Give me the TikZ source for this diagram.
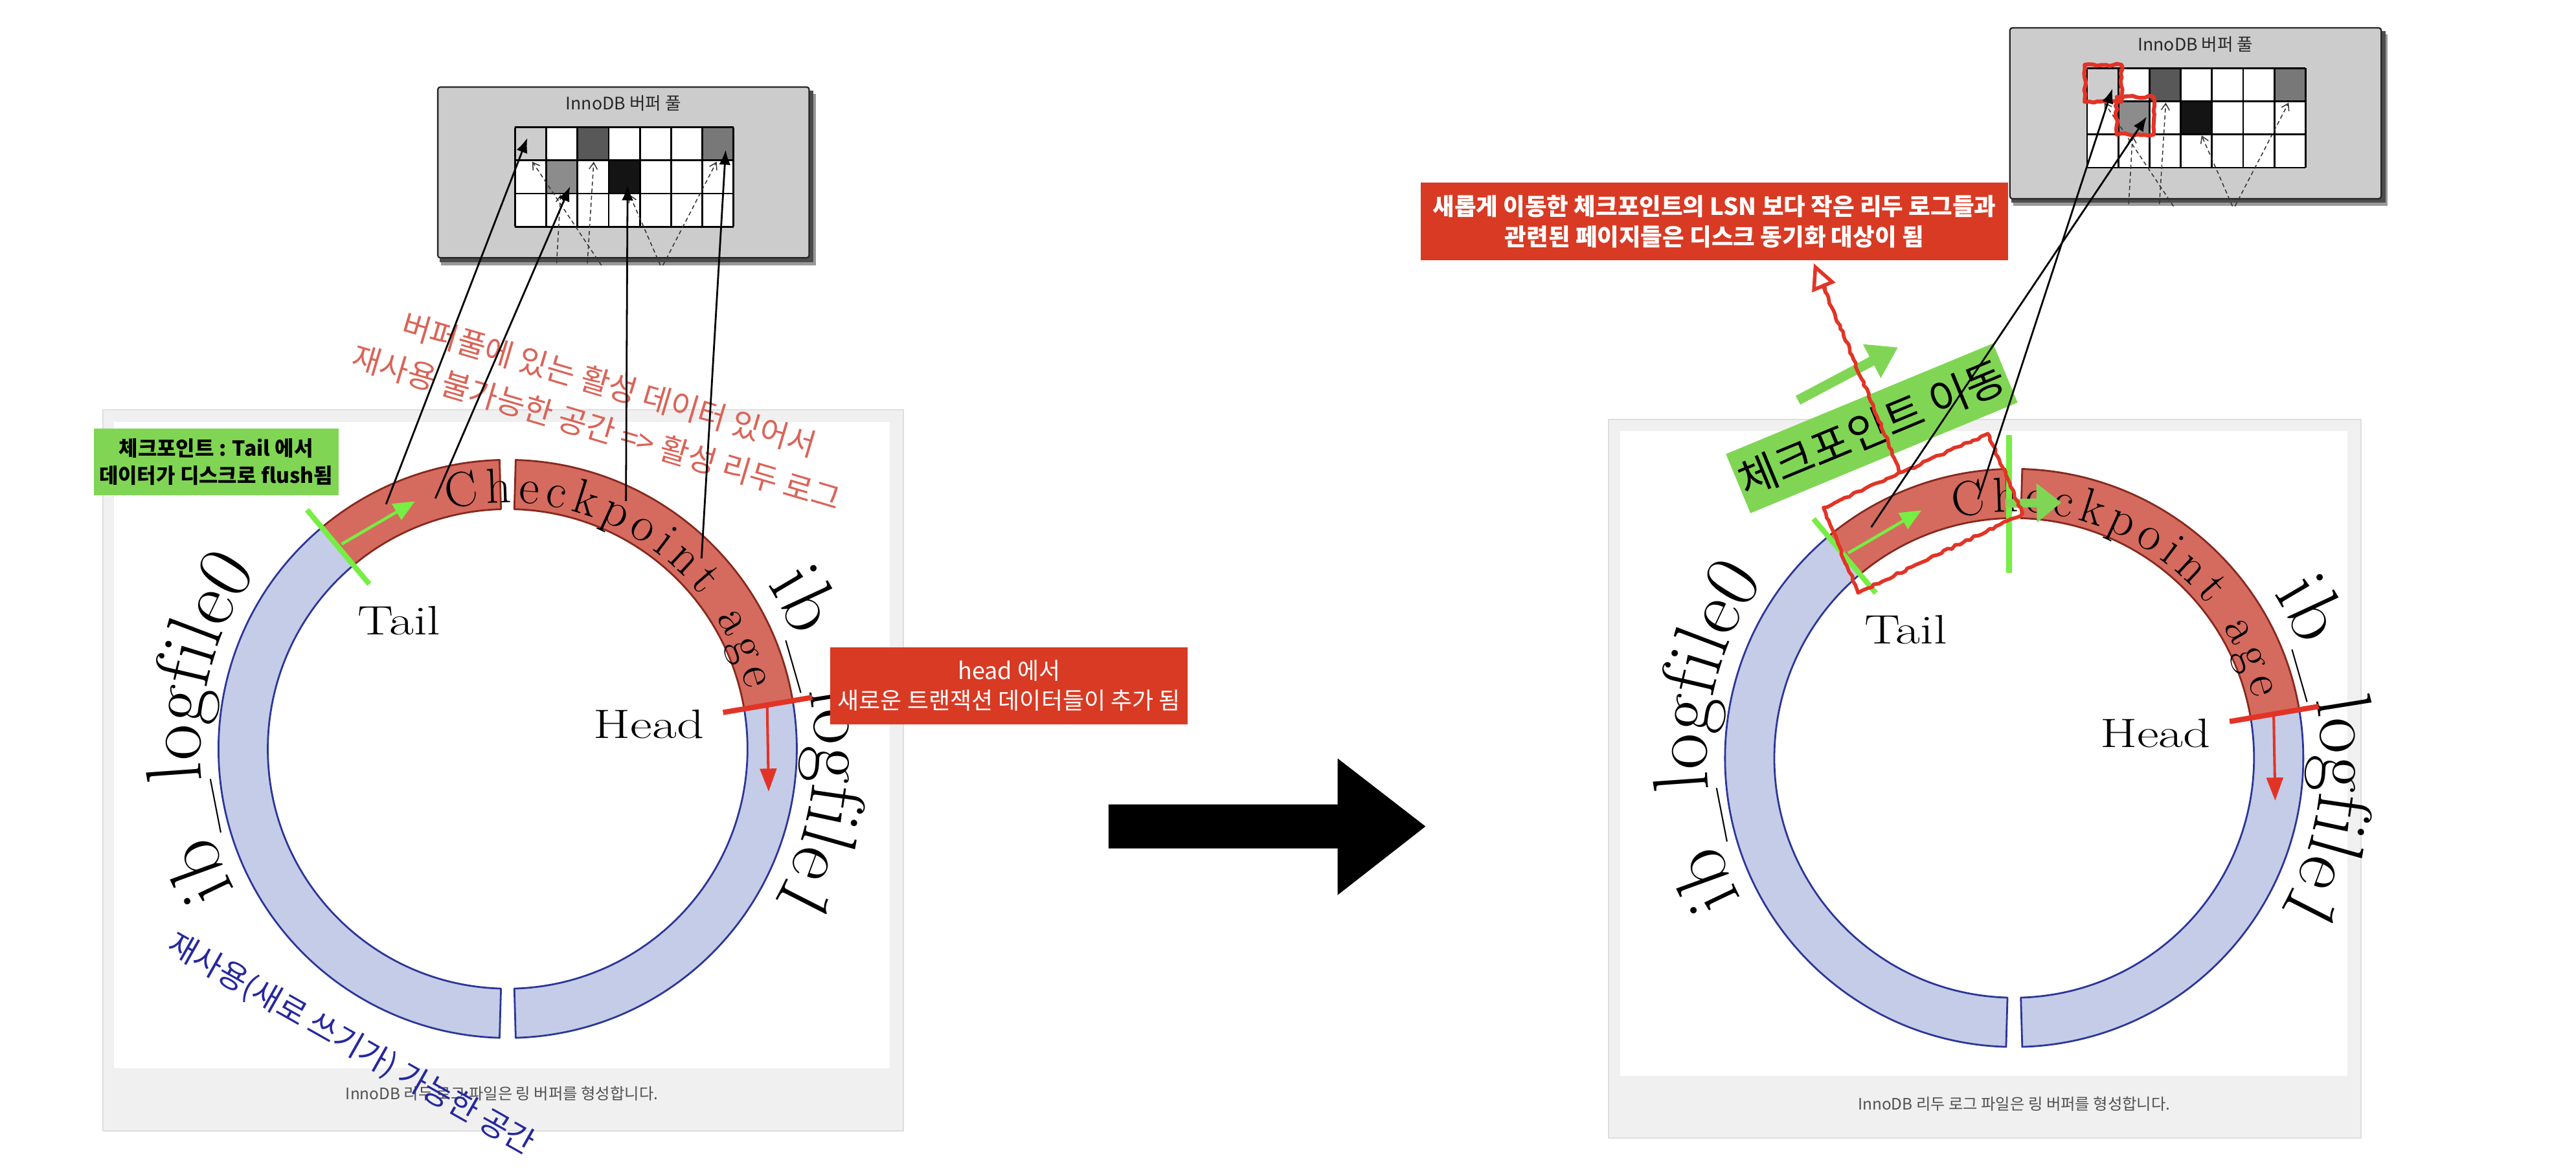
\documentclass[tikz,border=0pt]{standalone}
\usepackage{fontspec}
\newfontfamily\kr{Noto Sans CJK KR}
\usetikzlibrary{arrows.meta,decorations.text,decorations.pathmorphing,calc}
\definecolor{ringred}{RGB}{212,107,94}
\definecolor{ringredd}{RGB}{135,40,30}
\definecolor{ringblue}{RGB}{196,204,232}
\definecolor{ringblued}{RGB}{44,54,152}
\definecolor{boxgreen}{RGB}{128,214,84}
\definecolor{limeg}{RGB}{118,238,68}
\definecolor{boxred}{RGB}{216,58,36}
\definecolor{linered}{RGB}{226,52,38}
\definecolor{notered}{RGB}{218,100,88}
\definecolor{noteblue}{RGB}{38,40,158}
\definecolor{framegray}{RGB}{240,240,240}
\definecolor{frameline}{RGB}{222,222,222}
\definecolor{poolgray}{RGB}{204,204,204}
\definecolor{cellA}{RGB}{205,205,205}
\definecolor{cellB}{RGB}{88,88,88}
\definecolor{cellC}{RGB}{120,120,120}
\definecolor{cellD}{RGB}{140,140,140}
\definecolor{captiongray}{RGB}{80,80,80}
\tikzset{
  poolline/.style={line width=1.1, -{Latex[length=9pt,width=7pt]}},
  dasharrow/.style={line width=0.6, dash pattern=on 2.5pt off 1.8pt, black!80, -{Straight Barb[length=4pt,width=5pt]}},
  rough/.style={decorate, decoration={random steps, segment length=2.5pt, amplitude=0.7pt}, linered, line width=2.2},
  ringlabel/.style={font=\fontsize{25}{25}\selectfont},
  kcaption/.style={font=\kr\fontsize{9.6}{9.6}\selectfont, text=captiongray},
}
\newcommand\ringbody[1]{%
  \fill[ringred] (91.6:176) arc[start angle=91.6,end angle=130,radius=176] -- (130:146) arc[start angle=130,end angle=91.6,radius=146] -- cycle;
  \fill[ringblue] (130:176) arc[start angle=130,end angle=268.4,radius=176] -- (268.4:146) arc[start angle=268.4,end angle=130,radius=146] -- cycle;
  \fill[ringred] (9.6:176) arc[start angle=9.6,end angle=88.4,radius=176] -- (88.4:146) arc[start angle=88.4,end angle=9.6,radius=146] -- cycle;
  \fill[ringblue] (-88.4:176) arc[start angle=-88.4,end angle=9.6,radius=176] -- (9.6:146) arc[start angle=9.6,end angle=-88.4,radius=146] -- cycle;
  \draw[ringredd,line width=1.1] (130:176) arc[start angle=130,end angle=91.6,radius=176] -- (91.6:146) arc[start angle=91.6,end angle=130,radius=146];
  \draw[ringblued,line width=1.1] (130:176) arc[start angle=130,end angle=268.4,radius=176] -- (268.4:146) arc[start angle=268.4,end angle=130,radius=146];
  \draw[ringredd,line width=1.1] (9.6:176) arc[start angle=9.6,end angle=88.4,radius=176] -- (88.4:146) arc[start angle=88.4,end angle=9.6,radius=146];
  \draw[ringblued,line width=1.1] (9.6:176) arc[start angle=9.6,end angle=-88.4,radius=176] -- (-88.4:146) arc[start angle=-88.4,end angle=9.6,radius=146];
  \path[decorate,decoration={text along path,text={|\fontsize{30}{30}\selectfont|Checkpoint age},text align=fit to path}] (104:150) arc[start angle=104,end angle=14,radius=150];
  \path[decorate,decoration={text along path,text={|\fontsize{48}{48}\selectfont|ib{\_}logfile0},text align=center}] (216:187) arc[start angle=216,end angle=136,radius=187];
  \path[decorate,decoration={text along path,text={|\fontsize{48}{48}\selectfont|ib{\_}logfile1},text align=center}] (41:187) arc[start angle=41,end angle=-39,radius=187];
  \node[ringlabel] (#1tail) at (-66,78) {\scalebox{1.3}[1]{Tail}};
  \node[ringlabel] (#1head) at (86,15) {\scalebox{1.3}[1]{Head}};
  \coordinate (#1tm1) at (130:131);
  \coordinate (#1tm2) at (130:190);
  \coordinate (#1ga1) at (129:160.5);
  \coordinate (#1ga2) at (110.5:161);
  \coordinate (#1hm1) at (9.6:133);
  \coordinate (#1hm2) at (9.6:188);
  \coordinate (#1ra1) at (9.1:160);
  \coordinate (#1ra2) at (-9.3:161);
  \draw[limeg,line width=3.2] (#1tm1) -- (#1tm2);
  \draw[limeg,line width=1.8,-{Triangle[length=13pt,width=11pt]}] (#1ga1) -- (#1ga2);
  \draw[linered,line width=3.2] (#1hm1) -- (#1hm2);
  \draw[linered,line width=1.6,-{Triangle[length=14pt,width=10pt]}] (#1ra1) -- (#1ra2);
}
\newcommand\poolbody[1]{%
  \fill[black!40] (2,4) rectangle (230,108.5);
  \fill[black!70] (1,2) rectangle (228.5,106.5);
  \filldraw[fill=poolgray, draw=black!85, line width=0.9, rounded corners=1.5] (0,0) rectangle (226,104);
  \node[font=\kr\fontsize{10.5}{10.5}\selectfont, text=black!85] (#1title) at (113,10) {InnoDB 버퍼 풀};
  \fill[white] (47,24.5) rectangle (180,85.1);
  \fill[cellA] (47,24.5) rectangle (66,44.7);
  \fill[cellB] (85,24.5) rectangle (104,44.7);
  \fill[cellC] (161,24.5) rectangle (180,44.7);
  \fill[cellD] (66,44.7) rectangle (85,64.9);
  \fill[black!92] (104,44.7) rectangle (123,64.9);
  \foreach \ii in {0,...,7} \draw[line width=1.1] ({47+19*\ii},24.5) -- ({47+19*\ii},85.1);
  \foreach \jj in {0,...,3} \draw[line width=1.1] (47,{24.5+20.2*\jj}) -- (180,{24.5+20.2*\jj});
  \coordinate (#1d1a) at (99.6,108.6);  \coordinate (#1d1b) at (57.5,45.5);
  \coordinate (#1d2a) at (91,107.3);    \coordinate (#1d2b) at (94.9,45.5);
  \coordinate (#1d3a) at (72.3,107.3);  \coordinate (#1d3b) at (74.7,65.5);
  \coordinate (#1d4a) at (135.5,108.6); \coordinate (#1d4b) at (116.7,65.5);
  \coordinate (#1d5a) at (137,108.6);   \coordinate (#1d5b) at (169.7,45.5);
  \draw[dasharrow] (#1d1a) -- (#1d1b);
  \draw[dasharrow] (#1d2a) -- (#1d2b);
  \draw[dasharrow] (#1d3a) -- (#1d3b);
  \draw[dasharrow] (#1d4a) -- (#1d4b);
  \draw[dasharrow] (#1d5a) -- (#1d5b);
}
\begin{document}
\begin{tikzpicture}[x=1pt,y=1pt,line join=round]
\pgfmathsetseed{7}
\useasboundingbox (0,0) rectangle (1568,714);
\fill[white] (0,0) rectangle (1568,714);

% frames
\filldraw[fill=framegray, draw=frameline, line width=0.8] (62.7,25.5) rectangle (549.7,464.6);
\fill[white] (69.2,63.6) rectangle (541.5,457);
\node[kcaption] (capL) at (305.5,48) {InnoDB 리두 로그 파일은 링 버퍼를 형성합니다.};
\filldraw[fill=framegray, draw=frameline, line width=0.8] (979,21) rectangle (1437,458.6);
\fill[white] (986,59) rectangle (1429,451.5);
\node[kcaption] (capR) at (1226,42) {InnoDB 리두 로그 파일은 링 버퍼를 형성합니다.};

% left ring
\begin{scope}[shift={(309,258)}]
  \ringbody{L}
  \coordinate (Ls1) at (-74,149);
  \coordinate (Ls2) at (-44,152.5);
  \coordinate (Ls3) at (72,151);
  \coordinate (Ls4) at (118,116);
\end{scope}

% right ring
\begin{scope}[shift={(1226,252.5)}]
  \ringbody{R}
  \coordinate (Rs1) at (-87,140.5);
  \coordinate (Rs2) at (-22,157.5);
  \coordinate (Rnc1) at (-3,112.7);
  \coordinate (Rnc2) at (-3,196.7);
  \coordinate (Rna1) at (-5.4,155);
  \coordinate (Rna2) at (28.7,155.5);
  \draw[limeg,line width=3.5] (Rnc1) -- (Rnc2);
  \draw[boxgreen,line width=5.3,-{Triangle[length=15pt,width=23pt]}] (Rna1) -- (Rna2);
\end{scope}

% buffer pools
\begin{scope}[shift={(266.5,661)},yscale=-1]
  \poolbody{L}
  \coordinate (Lt11) at (54.5,31);
  \coordinate (Lt22) at (80.5,60.5);
  \coordinate (Lt24) at (115.5,60);
  \coordinate (Lt17) at (175.2,38.3);
\end{scope}
\begin{scope}[shift={(1223.4,697)},yscale=-1]
  \poolbody{R}
  \draw[rough,line width=2.4] (45.5,22.5) rectangle (68,45);
  \draw[rough,line width=2.4] (65,42) rectangle (87.5,65);
  \coordinate (Rt11) at (62.4,37);
  \coordinate (Rt22) at (83.3,54);
\end{scope}

% left annotations
\node[rotate=-16.5, align=center, text=notered, font=\kr\fontsize{19}{27.3}\selectfont] (redtext) at (367,466.7)
  {버퍼풀에 있는 활성 데이터 있어서\\재사용 불가능한 공간 => 활성 리두 로그};
\node[rotate=-29.5, text=noteblue, font=\kr\fontsize{19}{19}\selectfont] (bluetext) at (213.5,78)
  {재사용(새로 쓰기가) 가능한 공간};
\node[fill=boxgreen, minimum width=149, minimum height=40.6, inner sep=0, align=center,
      font=\kr\bfseries\fontsize{12.6}{16.4}\selectfont] (flushbox) at (131.5,432.7)
  {체크포인트 : Tail 에서\\데이터가 디스크로 flush됨};
\node[fill=boxred, minimum width=217.5, minimum height=47, inner sep=0, align=center, text=white,
      font=\kr\fontsize{14.2}{18.4}\selectfont] (headbox) at (614.25,296.5)
  {head 에서\\새로운 트랜잭션 데이터들이 추가 됨};

% left connectors
\draw[poolline] (Ls1) -- (Lt11);
\draw[poolline] (Ls2) -- (Lt22);
\draw[poolline] (Ls3) -- (Lt24);
\draw[poolline] (Ls4) -- (Lt17);

% big arrow
\fill[black] (674.8,197.4) -- (814.2,197.4) -- (814.2,169) -- (867.7,210.8) -- (814.2,252.2) -- (814.2,224.2) -- (674.8,224.2) -- cycle;

% right annotations
\node[fill=boxgreen, minimum width=176, minimum height=39, inner sep=0, rotate=22.5,
      font=\kr\fontsize{26}{26}\selectfont] (movebox) at (1139.3,453.2) {체크포인트 이동};
\coordinate (mva1) at (1094.4,470.3);
\coordinate (mva2) at (1155.3,502.5);
\draw[boxgreen,line width=6,-{Triangle[length=18pt,width=22pt]}] (mva1) -- (mva2);

\coordinate (rA) at (1109.9,404.9);
\coordinate (rB) at (1210,449.9);
\coordinate (rC) at (1231.1,401.2);
\coordinate (rD) at (1131,353);
\draw[rough] (rA) -- (rB) -- (rC) -- (rD) -- cycle;

\node[fill=boxred, minimum width=357.4, minimum height=47.3, inner sep=0, align=center, text=white,
      font=\kr\bfseries\fontsize{14.4}{18.4}\selectfont] (topnote) at (1043.5,579)
  {새롭게 이동한 체크포인트의 LSN 보다 작은 리두 로그들과\\관련된 페이지들은 디스크 동기화 대상이 됨};

\coordinate (ra1) at (1157,426);
\coordinate (ra2) at (1104,553.7);
\draw[rough] (ra1) -- ($(ra1)!0.9!(ra2)$);
\draw[linered,line width=2.2,-{Triangle[open,length=16pt,width=15pt]}] ($(ra1)!0.86!(ra2)$) -- (ra2);

% right connectors
\draw[poolline] (Rs1) -- (Rt22);
\draw[poolline] (Rs2) -- (Rt11);
\end{tikzpicture}
\end{document}
